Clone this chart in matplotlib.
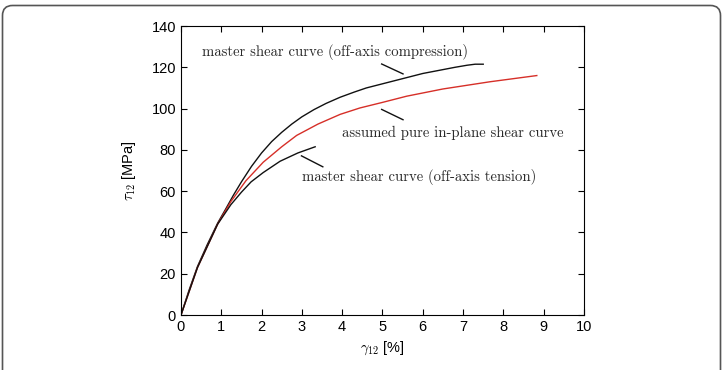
import matplotlib.pyplot as plt
from matplotlib.path import Path
from matplotlib.patches import PathPatch

plt.rcParams['mathtext.fontset'] = 'cm'

# master shear curve (off-axis compression)
gam_comp = [0, 0.2, 0.41, 0.65, 0.91, 1.1, 1.3, 1.5, 1.75, 2.0, 2.25, 2.5, 2.75, 3.0, 3.3, 3.6,
            3.95, 4.3, 4.6, 5.0, 5.3, 5.6, 6.0, 6.4, 6.8, 7.1, 7.3, 7.5]
tau_comp = [0, 12, 23.5, 34, 44.5, 51, 58, 64.5, 72, 78.5, 84, 88.5, 92.5, 96, 99.5, 102.5,
            105.5, 108, 110, 112, 113.5, 115, 117, 118.5, 120, 121, 121.5, 121.5]

# assumed pure in-plane shear curve
gam_pure = [0, 0.41, 0.91, 1.24, 1.61, 2.04, 2.5, 2.87, 3.4, 3.95, 4.44, 5.0, 5.6, 6.5, 7.67, 8.83]
tau_pure = [0, 23, 44, 55, 65, 74, 81.5, 87, 92.5, 97.2, 100.3, 103, 106, 109.5, 113, 116]

# master shear curve (off-axis tension)
gam_tens = [0, 0.41, 0.91, 1.24, 1.5, 1.74, 2.04, 2.46, 2.9, 3.33]
tau_tens = [0, 23, 44, 53.5, 59.5, 64.5, 69, 74.5, 78.5, 81.5]

fig = plt.figure(figsize=(7.23, 3.70), dpi=100)
ax = fig.add_axes([0.2503, 0.1486, 0.5574, 0.7811])

ax.plot(gam_comp, tau_comp, color='#111111', lw=1)
ax.plot(gam_pure, tau_pure, color='#d62f28', lw=1)
ax.plot(gam_tens, tau_tens, color='#111111', lw=1)

txt = dict(family='cmr10', fontsize=10.6, color='#2a2a2a', ha='center', va='center')
ax.text(3.82, 127.2, 'master shear curve (off-axis compression)', **txt)
ax.plot([4.98, 5.51], [121.6, 116.8], color='#111111', lw=1)
ax.text(6.75, 88.3, 'assumed pure in-plane shear curve', **txt)
ax.plot([4.98, 5.51], [99.6, 94.6], color='#111111', lw=1)
ax.text(5.91, 66.7, 'master shear curve (off-axis tension)', **txt)
ax.plot([2.99, 3.52], [77.1, 71.8], color='#111111', lw=1)

ax.set_xlim(0, 10)
ax.set_ylim(0, 140)
ax.set_xticks(range(0, 11))
ax.set_yticks(range(0, 141, 20))
ax.tick_params(direction='in', top=True, right=True, length=4, labelsize=10.5)
for lab in ax.get_xticklabels() + ax.get_yticklabels():
    lab.set_family('Liberation Sans')
ax.set_xlabel(r'$\gamma_{\mathsf{12}}$ [%]', family='Liberation Sans', fontsize=10.5, labelpad=4)
ax.set_ylabel(r'$\tau_{\mathsf{12}}$ [MPa]', family='Liberation Sans', fontsize=10.5, labelpad=10)

# outer frame: left, top and right sides only, rounded top corners (figure pixels)
W, H, r = 723, 370, 10
x0, x1, ytop = 2.5, 720.5, H - 5.5
verts = [(x0, -10), (x0, ytop - r), (x0, ytop), (x0 + r, ytop), (x1 - r, ytop),
         (x1, ytop), (x1, ytop - r), (x1, -10)]
codes = [Path.MOVETO, Path.LINETO, Path.CURVE3, Path.CURVE3, Path.LINETO,
         Path.CURVE3, Path.CURVE3, Path.LINETO]
frame = PathPatch(Path(verts, codes), transform=None, fill=False, edgecolor='#555555', lw=1.2)
fig.patches.append(frame)

fig.savefig('out.png', dpi=100)
